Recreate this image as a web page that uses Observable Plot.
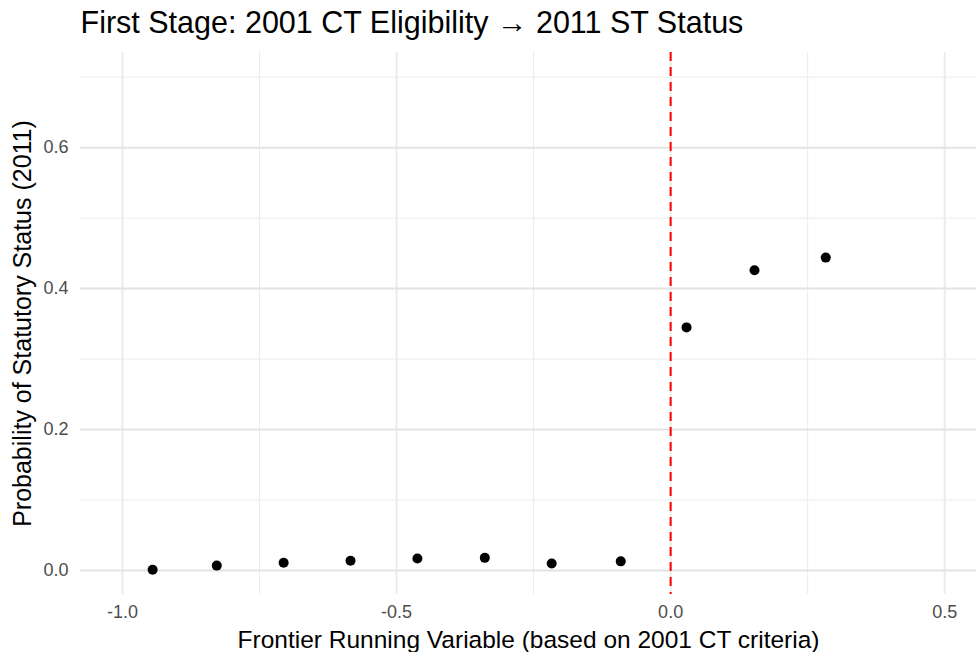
<!DOCTYPE html>
<html>
<head>
<meta charset="utf-8">
<script src="https://cdn.jsdelivr.net/npm/d3@7"></script>
<script src="https://cdn.jsdelivr.net/npm/@observablehq/plot@0.6"></script>
<style>
  html, body { margin: 0; padding: 0; background: #fff; }
  svg { display: block; }
</style>
</head>
<body>
<div id="chart"></div>
<script>
const runningVar = [-0.945, -0.828, -0.706, -0.584, -0.462, -0.339, -0.217, -0.091, 0.029, 0.153, 0.283];
const probST     = [0.001, 0.007, 0.011, 0.014, 0.017, 0.018, 0.010, 0.013, 0.345, 0.426, 0.444];
const xMajor = [-1.0, -0.5, 0.0, 0.5];
const xMinor = [-0.75, -0.25, 0.25];
const yMajor = [0.0, 0.2, 0.4, 0.6];
const yMinor = [0.1, 0.3, 0.5, 0.7];
const cutoff = [0];
const titleText = "First Stage: 2001 CT Eligibility \u2192 2011 ST Status";
const xLabel = "Frontier Running Variable (based on 2001 CT criteria)";
const yLabel = "Probability of Statutory Status (2011)";

const data = runningVar.map((x, i) => ({x, y: probST[i]}));
const fmt = d => d.toFixed(1);

const chart = Plot.plot({
  width: 976,
  height: 652,
  marginLeft: 80,
  marginRight: 0,
  marginTop: 52,
  marginBottom: 58,
  style: {fontFamily: "'Liberation Sans', Arial, sans-serif", background: "#fff"},
  x: {domain: [-1.0766, 0.558], axis: null},
  y: {domain: [-0.034, 0.735], axis: null},
  marks: [
    Plot.ruleX(xMinor, {stroke: "#ebebeb", strokeWidth: 1}),
    Plot.ruleY(yMinor, {stroke: "#ebebeb", strokeWidth: 1}),
    Plot.ruleX(xMajor, {stroke: "#ebebeb", strokeWidth: 2}),
    Plot.ruleY(yMajor, {stroke: "#e3e3e3", strokeWidth: 2}),
    Plot.axisX(xMajor, {tickSize: 0, tickPadding: 11, tickFormat: fmt, fontSize: 18, color: "#4d4d4d", label: null}),
    Plot.axisY(yMajor, {tickSize: 0, tickPadding: 12, tickFormat: fmt, fontSize: 18, color: "#4d4d4d", label: null}),
    Plot.ruleX(cutoff, {stroke: "#ff0000", strokeWidth: 2, strokeDasharray: "9,6"}),
    Plot.dot(data, {x: "x", y: "y", r: 5, fill: "#000", stroke: null}),
    Plot.text([titleText], {frameAnchor: "top-left", dy: -41, fontSize: 30.5, fill: "#000", textAnchor: "start"}),
    Plot.text([xLabel], {frameAnchor: "bottom", dy: 53, fontSize: 24.5, fill: "#000"}),
    Plot.text([yLabel], {frameAnchor: "left", dx: -58, rotate: -90, textAnchor: "middle", fontSize: 25, fill: "#000"})
  ]
});
document.getElementById("chart").appendChild(chart);
</script>
</body>
</html>
